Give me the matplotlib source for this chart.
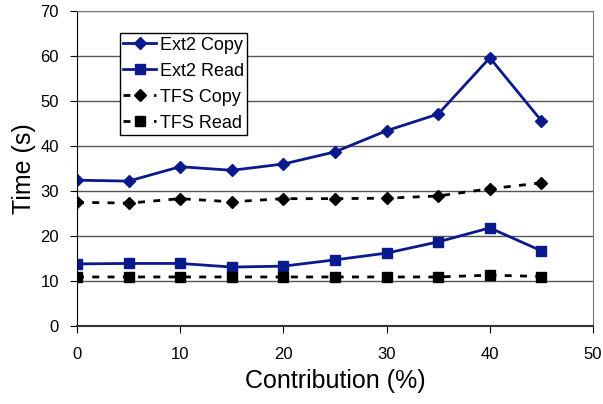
import matplotlib
matplotlib.use('Agg')
import matplotlib.pyplot as plt

plt.rcParams['font.family'] = ['Liberation Sans', 'DejaVu Sans']

contribution = [0, 5, 10, 15, 20, 25, 30, 35, 40, 45]
ext2_copy = [32.4, 32.2, 35.4, 34.6, 36.0, 38.7, 43.4, 47.1, 59.6, 45.6]
ext2_read = [13.8, 13.9, 13.9, 13.1, 13.3, 14.7, 16.2, 18.7, 21.8, 16.7]
tfs_copy = [27.5, 27.3, 28.3, 27.6, 28.3, 28.3, 28.4, 28.9, 30.5, 31.8]
tfs_read = [10.9, 10.9, 10.9, 10.9, 10.9, 10.9, 10.9, 10.9, 11.3, 11.0]

navy = '#0a1a8c'

fig = plt.figure(figsize=(6.03, 4.04), dpi=100)
ax = fig.add_axes([77/603, 1 - 326/404, (593 - 77)/603, (326 - 11)/404])

ax.plot(contribution, ext2_copy, color=navy, lw=2, marker='D', ms=6, label='Ext2 Copy')
ax.plot(contribution, ext2_read, color=navy, lw=2, marker='s', ms=7, label='Ext2 Read')
ax.plot(contribution, tfs_copy, color='black', lw=2, ls=(0, (2.5, 3)), marker='D', ms=6, label='TFS Copy')
ax.plot(contribution, tfs_read, color='black', lw=2, ls=(0, (2.5, 3)), marker='s', ms=7, label='TFS Read')

ax.set_xlim(0, 50)
ax.set_ylim(0, 70)
ax.set_xticks(range(0, 51, 10))
ax.set_yticks(range(0, 71, 10))
ax.yaxis.grid(True, color='#555555', lw=1)
ax.set_axisbelow(True)
for side in ('top', 'right'):
    ax.spines[side].set_color('#777777')
ax.spines['left'].set_color('black')
ax.spines['bottom'].set_color('#333333')
ax.spines['bottom'].set_linewidth(1.5)
ax.tick_params(direction='out', length=5, labelsize=12)
ax.tick_params(axis='x', pad=10)
ax.tick_params(axis='y', pad=8)

ax.set_xlabel('Contribution (%)', fontsize=18, labelpad=5)
ax.set_ylabel('Time (s)', fontsize=18, labelpad=3)

leg = ax.legend(loc='upper left', bbox_to_anchor=(0.083, 0.93), fontsize=13,
                fancybox=False, edgecolor='black', framealpha=1,
                handlelength=1.8, borderpad=0.2, labelspacing=0.5,
                handletextpad=0.2, borderaxespad=0)
leg.get_frame().set_linewidth(1)

fig.savefig('out.png', dpi=100)
